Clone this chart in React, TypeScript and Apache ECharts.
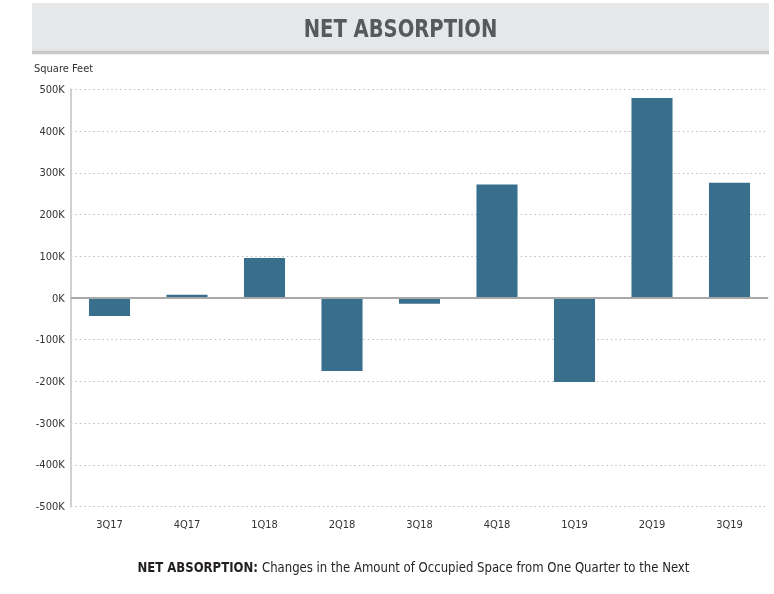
import React, { useEffect, useRef } from "react";
import * as echarts from "echarts";

const categories = ["3Q17", "4Q17", "1Q18", "2Q18", "3Q18", "4Q18", "1Q19", "2Q19", "3Q19"];
const netAbsorption = [-43000, 8000, 96000, -175000, -14000, 272000, -201000, 479000, 276000];
const yMin = -500000;
const yMax = 500000;
const yStep = 100000;

const FONT = "'Liberation Sans Narrow', 'DejaVu Sans Condensed', 'Liberation Sans', sans-serif";

export default function App() {
  const ref = useRef<HTMLDivElement>(null);
  useEffect(() => {
    if (!ref.current) return;
    const chart = echarts.init(ref.current, undefined, { renderer: "svg" });
    chart.setOption({
      animation: false,
      textStyle: { fontFamily: FONT },
      grid: { left: 70.75, right: 5.75, top: 89.3, bottom: 87.3, containLabel: false },
      graphic: [
        { type: "rect", shape: { x: 32, y: 3, width: 737, height: 48 }, style: { fill: "#e6e7e8" }, silent: true },
        { type: "rect", shape: { x: 32, y: 50.7, width: 737, height: 3.6 }, style: { fill: "#c9c9c9" }, silent: true },
        {
          type: "text", x: 400.5, y: 28, scaleX: 0.87,
          style: { text: "NET ABSORPTION", fontFamily: FONT, fontSize: 25, fontWeight: "bold", fill: "#58595b", align: "center", verticalAlign: "middle" },
        },
        {
          type: "text", x: 34, y: 68,
          style: { text: "Square Feet", fontFamily: FONT, fontSize: 11, fill: "#333", align: "left", verticalAlign: "middle" },
        },
        {
          type: "text", x: 413.5, y: 567, scaleX: 0.93,
          style: {
            text: "{b|NET ABSORPTION:} Changes in the Amount of Occupied Space from One Quarter to the Next",
            fontFamily: FONT, fontSize: 14, fill: "#231f20", align: "center", verticalAlign: "middle",
            rich: { b: { fontFamily: FONT, fontSize: 14, fontWeight: "bold", fill: "#231f20" } },
          },
        },
      ],
      xAxis: {
        type: "category",
        data: categories,
        axisLine: { show: false },
        axisTick: { show: false },
        axisLabel: { color: "#333", fontSize: 11, margin: 12, fontFamily: FONT },
      },
      yAxis: {
        type: "value",
        min: yMin,
        max: yMax,
        interval: yStep,
        axisLine: { show: true, lineStyle: { color: "#d0d0d0", width: 2 } },
        axisTick: { show: false },
        axisLabel: { color: "#333", fontSize: 11, margin: 6, fontFamily: FONT, formatter: (v: number) => `${v / 1000}K` },
        splitLine: { show: true, lineStyle: { color: "#bdbdbd", type: [1.5, 3], width: 1 } },
      },
      series: [
        {
          type: "bar",
          data: netAbsorption,
          barWidth: "53%",
          itemStyle: { color: "#376f8c" },
          markLine: {
            silent: true,
            symbol: "none",
            label: { show: false },
            lineStyle: { color: "#a8a8a8", type: "solid", width: 2 },
            data: [{ yAxis: 0 }],
          },
        },
      ],
    });
    return () => chart.dispose();
  }, []);
  return <div ref={ref} style={{ position: "fixed", left: 0, top: 0, width: 774, height: 594 }} />;
}
